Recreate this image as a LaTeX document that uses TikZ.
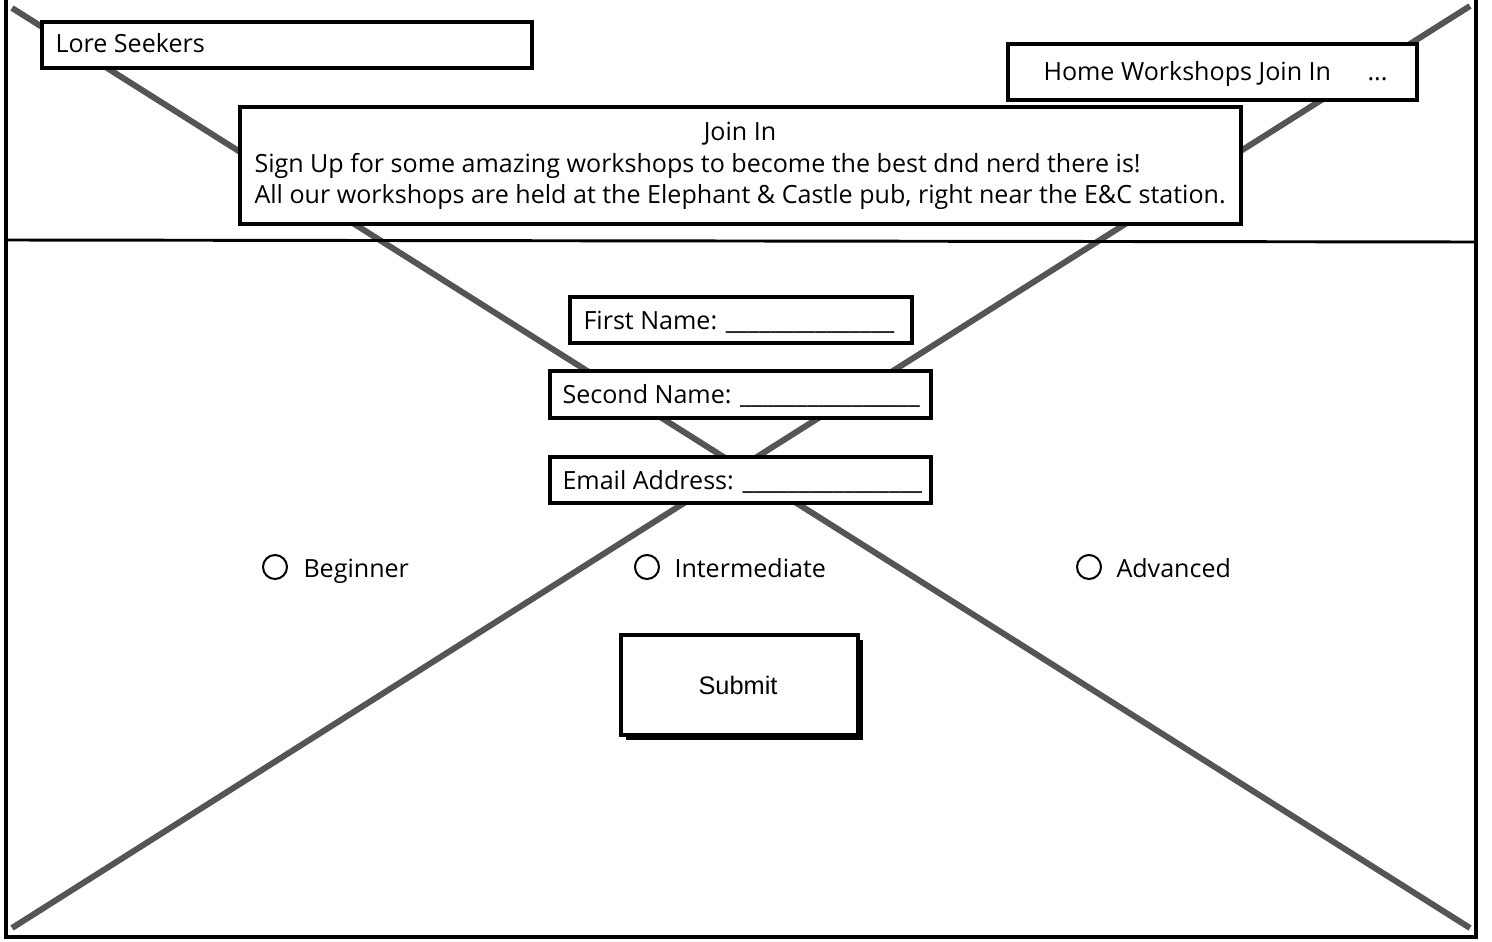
\documentclass[tikz,border=0pt]{standalone}
\usepackage{fontspec}
\setmainfont{Open Sans}
\newfontfamily\btnfont{Liberation Sans}
\tikzset{every picture/.style={line width=0.75pt}}
\tikzset{wire/.style={draw={rgb, 255:red, 85; green, 85; blue, 85}, line width=4.5},
  sketchbox/.style={draw, fill=white, line width=3},
  label/.style={font=\fontsize{18.8}{22}\selectfont, inner sep=0pt, anchor=base west}}
\begin{document}
\begin{tikzpicture}[x=0.75pt,y=0.75pt,yscale=-1,xscale=1]
	\path[use as bounding box] (0,0) rectangle (1492,942);

	%Straight Lines
	\draw [wire]    (12,8) -- (1470,928) ;
	%Straight Lines
	\draw [wire]    (1470,6) -- (12,928) ;
	%Shape: Rectangle
	\draw [line width=3]    (6,-4) rectangle (1476,937) ;
	%Straight Lines
	\draw [line width=2.2]    (6,240) -- (1476,242) ;

	%Shape: Rectangle
	\draw [sketchbox]    (42,22) rectangle (532,68) ;
	%Shape: Rectangle
	\draw [sketchbox]    (1008,44) rectangle (1417,100) ;
	%Shape: Rectangle
	\draw [sketchbox]    (240,107) rectangle (1241,224) ;
	%Shape: Rectangle
	\draw [sketchbox]    (570,297) rectangle (912,343) ;
	%Shape: Rectangle
	\draw [sketchbox]    (550,371) rectangle (931,418) ;
	%Shape: Rectangle
	\draw [sketchbox]    (550,457) rectangle (931,503) ;
	%Shape: Rectangle
	\fill    (626,640) rectangle (863,740) ;
	\draw [sketchbox]    (621,635) rectangle (858,735) ;
	%Shape: Circle
	\draw [line width=1.5]    (275,567) circle [radius=12] ;
	\draw [line width=1.5]    (647,567) circle [radius=12] ;
	\draw [line width=1.5]    (1089,567) circle [radius=12] ;

	% Text Node
	\draw (55,53) node [label] (brand) {Lore Seekers};
	% Text Node
	\draw (1043,81) node [label] (navlinks) {Home Workshops Join In};
	% Text Node
	\draw (1367,81) node [label] (navmore) {...};
	% Text Node
	\draw (740,140) node [label, anchor=base] (jointitle) {Join In};
	% Text Node
	\draw (254,172) node [label] (joinline1) {Sign Up for some amazing workshops to become the best dnd nerd there is!};
	% Text Node
	\draw (254,203) node [label] (joinline2) {All our workshops are held at the Elephant \& Castle pub, right near the E\&C station.};
	% Text Node
	\draw (583,329) node [label] (firstname) {First Name: \_\_\_\_\_\_\_\_\_\_\_\_\_\_\_};
	% Text Node
	\draw (562,403) node [label] (secondname) {Second Name: \_\_\_\_\_\_\_\_\_\_\_\_\_\_\_\_};
	% Text Node
	\draw (562,489) node [label] (email) {Email Address: \_\_\_\_\_\_\_\_\_\_\_\_\_\_\_\_};
	% Text Node
	\draw (303,577) node [label] (beginner) {Beginner};
	% Text Node
	\draw (674,577) node [label] (intermediate) {Intermediate};
	% Text Node
	\draw (1116,577) node [label] (advanced) {Advanced};
	% Text Node
	\draw (738,694) node [font=\btnfont\fontsize{19}{22}\selectfont, inner sep=0pt, anchor=base] (submit) {Submit};

\end{tikzpicture}
\end{document}
